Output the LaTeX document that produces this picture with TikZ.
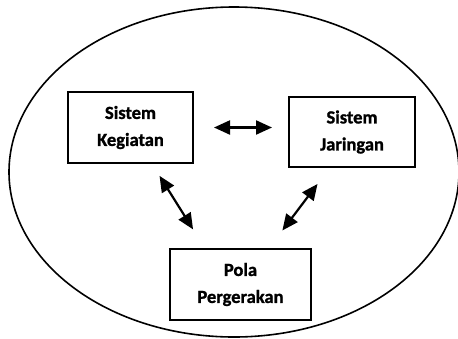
\documentclass[tikz,border=0pt]{standalone}
\usepackage{fontspec}
\setmainfont{Carlito}[BoldFont={Carlito Bold}, BoldFeatures={FakeBold=1.2}]
\usetikzlibrary{arrows.meta,calc}

\begin{document}
\begin{tikzpicture}[x=1pt, y=-1pt,
  box/.style={draw, line width=2pt, minimum width=125pt, minimum height=71pt, align=center, font=\fontsize{18.5}{27}\selectfont\bfseries},
  link/.style={<->, >={Triangle[length=16pt,width=14pt]}, line width=2.2pt}]
\useasboundingbox (0,0) rectangle (458,338);
\draw[line width=1.6pt] (234,172) ellipse [x radius=225, y radius=165];
\node[box] (kegiatan) at (130.5,127.5) {Sistem\\Kegiatan};
\node[box, minimum width=126pt, minimum height=70pt] (jaringan) at (352,132) {Sistem\\Jaringan};
\node[box, minimum width=141pt] (pola) at (240.5,284.5) {Pola\\Pergerakan};
\draw[link, shorten <=20pt, shorten >=16pt] (kegiatan.east) -- (kegiatan.east -| jaringan.west);
\draw[link, shorten <=14pt, shorten >=22pt] ($(kegiatan.south west)!0.67!(kegiatan.south east)$) -- ($(pola.north west)!0.25!(pola.north east)$);
\draw[link, shorten <=20pt, shorten >=22pt] ($(jaringan.south west)!0.325!(jaringan.south east)$) -- ($(pola.north west)!0.7!(pola.north east)$);
\end{tikzpicture}
\end{document}
